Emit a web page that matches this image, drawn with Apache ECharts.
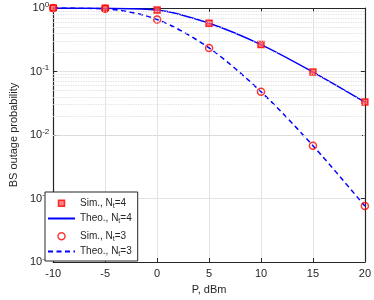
<!DOCTYPE html>
<html><head><meta charset="utf-8">
<script src="https://cdn.jsdelivr.net/npm/echarts@6/dist/echarts.min.js"></script>
<style>html,body{margin:0;padding:0;background:#fff}#c{width:374px;height:300px}</style>
</head><body><div id="c"></div>
<script>
const powerDbm = [-10, -5, 0, 5, 10, 15, 20];
const simNt4 = [1.0, 0.99, 0.93, 0.575, 0.265, 0.098, 0.033];
const theoNt4 = [1.0, 0.99, 0.93, 0.575, 0.265, 0.098, 0.033];
const simNt3 = [1.0, 0.97, 0.66, 0.235, 0.048, 0.0068, 0.00076];
const theoNt3 = [1.0, 0.97, 0.66, 0.235, 0.048, 0.0068, 0.00076];
const yMinorValues = [];
for (let e = -4; e < 0; e++) for (let k = 2; k <= 9; k++) yMinorValues.push(k * Math.pow(10, e));

const pair = (xs, ys) => xs.map((x, i) => [x, ys[i]]);
const font = 'Liberation Sans, Arial, sans-serif';
const txt = '#262626';
const boxAxisLine = { onZero: false, lineStyle: { color: '#262626', width: 1.2 } };
const chart = echarts.init(document.getElementById('c'));
chart.setOption({
  animation: false,
  grid: { left: 41, right: 4, top: 8, bottom: 34 },
  xAxis: [{
    type: 'value', min: -10, max: 20, interval: 5,
    name: 'P, dBm', nameLocation: 'middle', nameGap: 22,
    nameTextStyle: { fontFamily: font, fontSize: 11, color: txt },
    axisLine: boxAxisLine,
    axisTick: { inside: true, length: 4, lineStyle: { color: '#262626' } },
    axisLabel: { fontFamily: font, fontSize: 11, color: txt, margin: 6 },
    splitLine: { show: true, lineStyle: { color: '#e3e3e3', width: 1 } }
  }, {
    type: 'value', position: 'top', min: -10, max: 20, interval: 5,
    axisLine: boxAxisLine,
    axisTick: { inside: true, length: 4, lineStyle: { color: '#262626' } },
    axisLabel: { show: false }, splitLine: { show: false }
  }],
  yAxis: [{
    type: 'log', min: 1e-4, max: 1, logBase: 10,
    name: 'BS outage probability', nameLocation: 'middle', nameGap: 29,
    nameTextStyle: { fontFamily: font, fontSize: 11, color: txt },
    axisLine: boxAxisLine,
    axisTick: { inside: true, length: 4, lineStyle: { color: '#262626' } },
    axisLabel: {
      margin: 4,
      formatter: v => '{b|10}{s|' + Math.round(Math.log10(v)) + '}',
      rich: {
        b: { fontFamily: font, fontSize: 11, color: txt },
        s: { fontFamily: font, fontSize: 8, color: txt, verticalAlign: 'top', padding: [0, 0, 7, 0] }
      }
    },
    splitLine: { show: true, lineStyle: { color: '#e3e3e3', width: 1 } }
  }, {
    type: 'log', min: 1e-4, max: 1, logBase: 10, position: 'right',
    axisLine: boxAxisLine,
    axisTick: { inside: true, length: 4, lineStyle: { color: '#262626' } },
    axisLabel: { show: false }, splitLine: { show: false }
  }],
  legend: {
    orient: 'vertical', left: 45, top: 192, width: 86,
    backgroundColor: '#fff', borderColor: '#262626', borderWidth: 1, borderRadius: 0,
    padding: [4, 6, 3, 2], itemGap: 4, itemWidth: 27, itemHeight: 12,
    data: [
      { name: 'Sim., Nt=4', icon: 'path://M0,0L0,0M10.5,3.5L16.5,3.5L16.5,9.5L10.5,9.5ZM27,12L27,12',
        itemStyle: { color: '#ff6060', borderColor: '#ff0000', borderWidth: 1.5 } },
      { name: 'Theo., Nt=4', itemStyle: { opacity: 0 } },
      { name: 'Sim., Nt=3', icon: 'path://M0,0L0,0M17,6.5A3.5,3.5,0,1,1,10,6.5A3.5,3.5,0,1,1,17,6.5ZM27,12L27,12',
        itemStyle: { color: 'rgba(255,255,255,0)', borderColor: '#ff0000', borderWidth: 1.5 } },
      { name: 'Theo., Nt=3', itemStyle: { opacity: 0 } }
    ],
    formatter: n => {
      const p = n.split('Nt');
      return p[0] + 'N{sub|t}' + p[1];
    },
    textStyle: {
      fontFamily: font, fontSize: 10, color: txt,
      rich: { sub: { fontFamily: font, fontSize: 7, color: txt, verticalAlign: 'bottom', padding: [6, 0, 0, 0] } }
    }
  },
  series: [
    {
      name: 'Theo., Nt=4', type: 'line', data: pair(powerDbm, theoNt4), smooth: 0.3,
      symbol: 'none', lineStyle: { color: '#0000ff', width: 1.5 }, itemStyle: { color: '#0000ff' },
      markLine: {
        silent: true, symbol: 'none', label: { show: false },
        lineStyle: { color: '#d9d9d9', type: [1, 1.5], width: 1 },
        data: yMinorValues.map(v => ({ yAxis: v }))
      }, z: 3
    },
    {
      name: 'Theo., Nt=3', type: 'line', data: pair(powerDbm, theoNt3), smooth: 0.3,
      symbol: 'none', lineStyle: { color: '#0000ff', width: 1.5, type: [5, 3.5] }, itemStyle: { color: '#0000ff' }, z: 3
    },
    {
      name: 'Sim., Nt=4', type: 'scatter', data: pair(powerDbm, simNt4), symbol: 'rect', symbolSize: 6,
      itemStyle: { color: '#ff6060', borderColor: '#ff0000', borderWidth: 1.5 }, z: 4
    },
    {
      name: 'Sim., Nt=3', type: 'scatter', data: pair(powerDbm, simNt3), symbol: 'circle', symbolSize: 7,
      itemStyle: { color: 'rgba(255,255,255,0)', borderColor: '#ff0000', borderWidth: 1.5 }, z: 4
    }
  ]
});
</script></body></html>
